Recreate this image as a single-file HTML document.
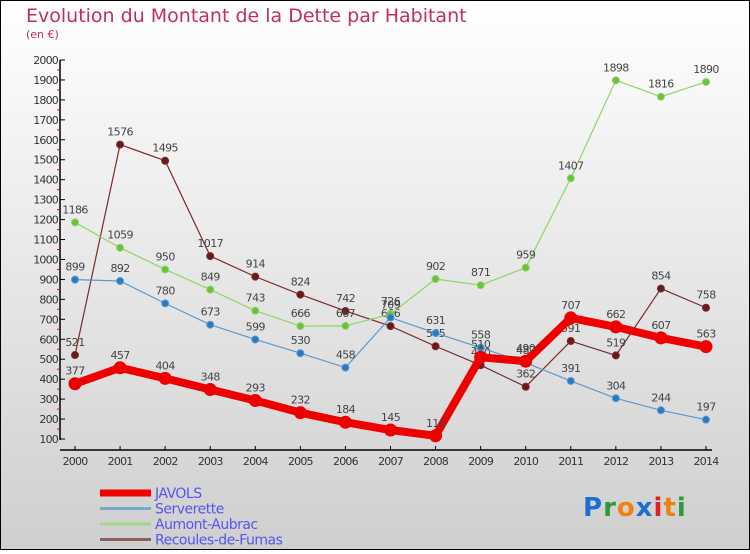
<!DOCTYPE html>
<html><head><meta charset="utf-8"><style>
body{margin:0}
#c{width:750px;height:550px;position:relative;font-family:"DejaVu Sans","Liberation Sans",sans-serif}
svg text{font-family:"DejaVu Sans","Liberation Sans",sans-serif}
</style></head><body>
<div id="c">
<svg id="s" width="750" height="550" xmlns="http://www.w3.org/2000/svg">
<defs><linearGradient id="bg" x1="0" y1="0" x2="0" y2="1"><stop offset="0" stop-color="#ffffff"/><stop offset="1" stop-color="#cfcfcf"/></linearGradient></defs>
<rect x="0.5" y="0.5" width="749" height="549" fill="url(#bg)" stroke="#000"/>
<text x="26" y="22" font-size="19" fill="#c0305a">Evolution du Montant de la Dette par Habitant</text>
<text x="26" y="38" font-size="11" fill="#c0305a">(en €)</text>
<g id="plot"></g>
<text x="583" y="516" font-size="26" font-family="Liberation Sans" font-weight="bold" letter-spacing="1"><tspan fill="#1a6fd0">P</tspan><tspan fill="#2a9a3a">r</tspan><tspan fill="#f08010">o</tspan><tspan fill="#1a6fd0">x</tspan><tspan fill="#e02020">i</tspan><tspan fill="#f08010">t</tspan><tspan fill="#2a9a3a">i</tspan></text>
</svg>
</div>
<script>
const years=[2000,2001,2002,2003,2004,2005,2006,2007,2008,2009,2010,2011,2012,2013,2014];
const javols=[377,457,404,348,293,232,184,145,116,510,490,707,662,607,563];
const serverette=[899,892,780,673,599,530,458,709,631,558,482,391,304,244,197];
const aumont=[1186,1059,950,849,743,666,667,726,902,871,959,1407,1898,1816,1890];
const recoules=[521,1576,1495,1017,914,824,742,666,565,470,362,591,519,854,758];
const yTicks=[100,200,300,400,500,600,700,800,900,1000,1100,1200,1300,1400,1500,1600,1700,1800,1900,2000];
const NS="http://www.w3.org/2000/svg";
const g=document.getElementById('plot');
function X(i){return 75+i*(706-75)/14;}
function Y(v){return 439-(v-100)*(439-60)/1900;}
function el(t,a,p){const e=document.createElementNS(NS,t);for(const k in a)e.setAttribute(k,a[k]);(p||g).appendChild(e);return e;}
let e=el('line',{x1:60,y1:60,x2:60,y2:440,stroke:'#000','stroke-width':1.5});


e=el('line',{x1:60,y1:450,x2:712,y2:450,stroke:'#000','stroke-width':1.5});


yTicks.forEach((v,i)=>{
 el('line',{x1:60,y1:Y(v),x2:65,y2:Y(v),stroke:'#000'});
 if(i<yTicks.length-1) el('line',{x1:57,y1:Y(v+50),x2:60,y2:Y(v+50),stroke:'#e00'});
 const t=el('text',{x:58,y:Y(v)+4,'font-size':11,'text-anchor':'end',fill:'#333','letter-spacing':'-0.8'});
 t.textContent=v;
 
 
});
years.forEach((y,i)=>{
 el('line',{x1:X(i),y1:446,x2:X(i),y2:450,stroke:'#000'});
 const t=el('text',{x:X(i),y:465,'font-size':11,'text-anchor':'middle',fill:'#333','letter-spacing':'-0.8'});
 t.textContent=y;
 
 
});
function series(data,color,w,r,name,dot){
 const grp=el('g',{});
 
 
 el('polyline',{points:data.map((v,i)=>X(i)+','+Y(v)).join(' '),fill:'none',stroke:color,'stroke-width':w,'stroke-linejoin':'round'},grp);
 data.forEach((v,i)=>{
  const c=el('circle',{cx:X(i),cy:Y(v),r:r,fill:dot,stroke:color,'stroke-width':1},grp);
  
  
  const t=el('text',{x:X(i),y:Y(v)-9,'font-size':11,'text-anchor':'middle',fill:'#444','letter-spacing':'-0.6'},grp);
  t.textContent=v;
  
  
 });
}
series(recoules,'#7a2a2a',1.2,3.5,'recoules','#6a1a1a');
series(aumont,'#8fd46a',1.2,3.5,'aumont','#6cc03a');
series(serverette,'#5a9ad0',1.2,3.5,'serverette','#2a7ac0');
series(javols,'#ee0000',8,6,'javols','#ee0000');
const leg=[['JAVOLS','#ee0000',7],['Serverette','#7aa8cc',3],['Aumont-Aubrac','#a0d888',3],['Recoules-de-Fumas','#8a6060',3]];
leg.forEach((l,i)=>{
 const y=493+i*15.5;
 const lg=el('g',{});
 
 
 el('line',{x1:100,y1:y,x2:151,y2:y,stroke:l[1],'stroke-width':l[2]},lg);
 const t=el('text',{x:155,y:y+5,'font-size':14,fill:'#5555ee','letter-spacing':'-0.5'},lg);
 t.textContent=l[0];
});
</script>
</body></html>
